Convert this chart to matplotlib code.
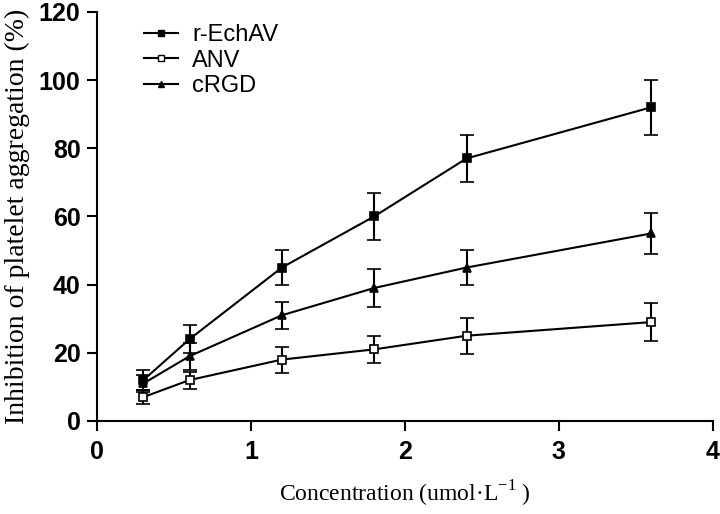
import matplotlib
matplotlib.use("Agg")
import matplotlib.pyplot as plt
from matplotlib.lines import Line2D

plt.rcParams["mathtext.fontset"] = "custom"
plt.rcParams["mathtext.rm"] = "Liberation Serif"

conc = [0.3, 0.6, 1.2, 1.8, 2.4, 3.6]
echav = [12, 24, 45, 60, 77, 92]
echav_err = [3, 4, 5, 7, 7, 8]
anv = [7, 12, 18, 21, 25, 29]
anv_err = [2, 2.5, 3.8, 4, 5.3, 5.5]
crgd = [11, 19, 31, 39, 45, 55]
crgd_err = [2.5, 4, 4, 5.5, 5, 6]

labels = ["r-EchAV", "ANV", "cRGD"]
xticks = [0, 1, 2, 3, 4]
yticks = [0, 20, 40, 60, 80, 100, 120]

fig = plt.figure(figsize=(7.2, 5.14), dpi=100)
ax = fig.add_axes([0.135, 0.181, 0.855, 0.796])

common = dict(color="black", lw=1.5, capsize=5, capthick=1.5, elinewidth=1.5, mew=1.2)
ax.errorbar(conc, echav, yerr=echav_err, marker="s", ms=5.5, mfc="black", mec="black", **common)
ax.errorbar(conc, anv, yerr=anv_err, marker="s", ms=5.5, mfc="white", mec="black", **common)
ax.errorbar(conc, crgd, yerr=crgd_err, marker="^", ms=5.5, mfc="black", mec="black", **common)

ax.set_xlim(0, 4)
ax.set_ylim(0, 120)
ax.set_xticks(xticks)
ax.set_yticks(yticks)
for s in ["top", "right"]:
    ax.spines[s].set_visible(False)
for s in ["left", "bottom"]:
    ax.spines[s].set_linewidth(1.5)
ax.tick_params(width=1.5, length=7.5, direction="out", labelsize=18)
ax.tick_params(axis="x", pad=6.5)
ax.tick_params(axis="y", pad=4.5)
for lab in ax.get_xticklabels() + ax.get_yticklabels():
    lab.set_fontfamily("Liberation Sans")
    lab.set_fontweight("bold")

ax.set_xlabel("Concentration (umol·L$^{\\mathregular{-1}}$ )", fontsize=17, family="Liberation Serif", labelpad=10)
ax.set_ylabel("Inhibition of platelet aggregation (%)", fontsize=20, family="Liberation Serif", labelpad=6)

handles = [
    Line2D([], [], color="black", lw=1.5, marker="s", ms=4.5, mfc="black", mec="black"),
    Line2D([], [], color="black", lw=1.5, marker="s", ms=4.5, mfc="white", mec="black"),
    Line2D([], [], color="black", lw=1.5, marker="^", ms=4.5, mfc="black", mec="black"),
]
ax.legend(handles, labels, loc="upper left", bbox_to_anchor=(0.041, 1.022), frameon=False,
          prop={"family": "Liberation Sans", "size": 17}, handlelength=1.45,
          labelspacing=0.15, handletextpad=0.6)

fig.savefig("out.png", dpi=100)
